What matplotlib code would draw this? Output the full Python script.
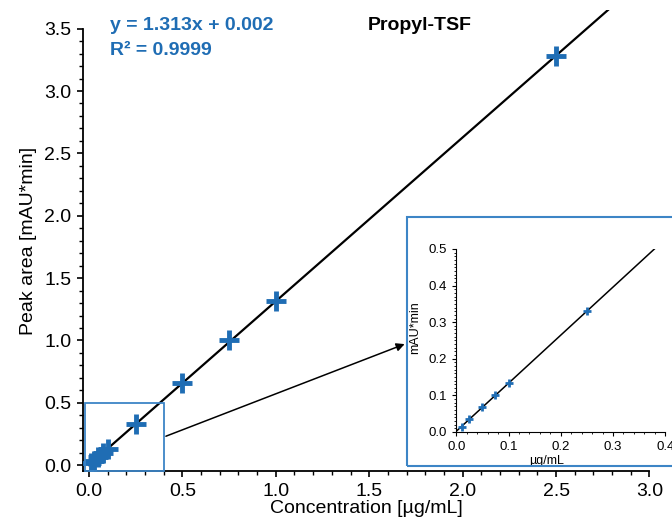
import matplotlib.pyplot as plt
from matplotlib.patches import Rectangle
import numpy as np

plt.rcParams['font.family'] = ['Liberation Sans', 'DejaVu Sans']

# calibration data
conc = [0.01, 0.025, 0.05, 0.075, 0.1, 0.25, 0.5, 0.75, 1.0, 2.5]
area = [0.015, 0.035, 0.068, 0.10, 0.133, 0.33, 0.66, 1.005, 1.315, 3.28]
slope = 1.313
intercept = 0.002

blue = '#1f6db4'
box_blue = '#3d85c6'

fig = plt.figure(figsize=(6.72, 5.23), dpi=100)
ax = fig.add_axes([0.1235, 0.099, 0.843, 0.882])

xfit = np.array([0, 3.2])
ax.plot(xfit, slope * xfit + intercept, color='black', lw=1.6, zorder=2)
ax.plot(conc, area, '+', color=blue, ms=14, mew=3.5, zorder=3)

ax.set_xlim(-0.032, 3.0)
ax.set_ylim(-0.048, 3.65)
ax.set_xticks(np.arange(0, 3.01, 0.5))
ax.set_yticks(np.arange(0, 3.51, 0.5))
ax.set_xticks(np.arange(0, 3.01, 0.1), minor=True)
ax.set_yticks(np.arange(0, 3.51, 0.1), minor=True)
ax.tick_params(which='major', length=4.5, width=1.2, labelsize=14, pad=4)
ax.tick_params(which='minor', length=3, width=1)
ax.spines['top'].set_visible(False)
ax.spines['right'].set_visible(False)
ax.spines['left'].set_linewidth(1.3)
ax.spines['bottom'].set_linewidth(1.3)
ax.spines['left'].set_bounds(-0.048, 3.5)
ax.set_xlabel('Concentration [µg/mL]', fontsize=14, labelpad=0)
ax.set_ylabel('Peak area [mAU*min]', fontsize=14, labelpad=5)

ax.text(0.164, 0.952, 'y = 1.313x + 0.002', transform=fig.transFigure,
        color=blue, fontsize=14, fontweight='bold', va='center')
ax.text(0.164, 0.904, 'R² = 0.9999', transform=fig.transFigure,
        color=blue, fontsize=14, fontweight='bold', va='center')
ax.text(0.547, 0.952, 'Propyl-TSF', transform=fig.transFigure,
        color='black', fontsize=14, fontweight='bold', va='center')

# zoom box on main axes
ax.add_patch(Rectangle((-0.02, -0.045), 0.42, 0.545, fill=False,
                       edgecolor=box_blue, lw=1.3, clip_on=False, zorder=4))

# arrow to inset
ax.annotate('', xy=(0.606, 0.344), xycoords='figure fraction',
            xytext=(0.243, 0.164), textcoords='figure fraction',
            arrowprops=dict(arrowstyle='-|>', color='black', lw=1.1,
                            mutation_scale=12))

# inset frame
fig.patches.append(Rectangle((0.606, 0.109), 0.41, 0.476, fill=False,
                             edgecolor=box_blue, lw=1.5,
                             transform=fig.transFigure, figure=fig))

ins = fig.add_axes([0.679, 0.174, 0.311, 0.35])
ins.plot(xfit, slope * xfit + intercept, color='black', lw=1.1, zorder=2)
ins.plot(conc, area, '+', color=blue, ms=6, mew=2, zorder=3)
ins.set_xlim(0, 0.4)
ins.set_ylim(0, 0.5)
ins.set_xticks(np.arange(0, 0.41, 0.1))
ins.set_yticks(np.arange(0, 0.51, 0.1))
ins.set_xticks(np.arange(0, 0.41, 0.02), minor=True)
ins.set_yticks(np.arange(0, 0.51, 0.01), minor=True)
ins.tick_params(which='major', length=3, width=0.8, labelsize=9.5)
ins.tick_params(which='minor', length=1.5, width=0.6)
ins.spines['top'].set_visible(False)
ins.spines['right'].set_visible(False)
ins.set_xlabel('µg/mL', fontsize=9)
ins.set_ylabel('mAU*min', fontsize=9)
ins.xaxis.set_label_coords(0.43, -0.125)
ins.yaxis.set_label_coords(-0.17, 0.57)

fig.savefig('out.png', dpi=100)
